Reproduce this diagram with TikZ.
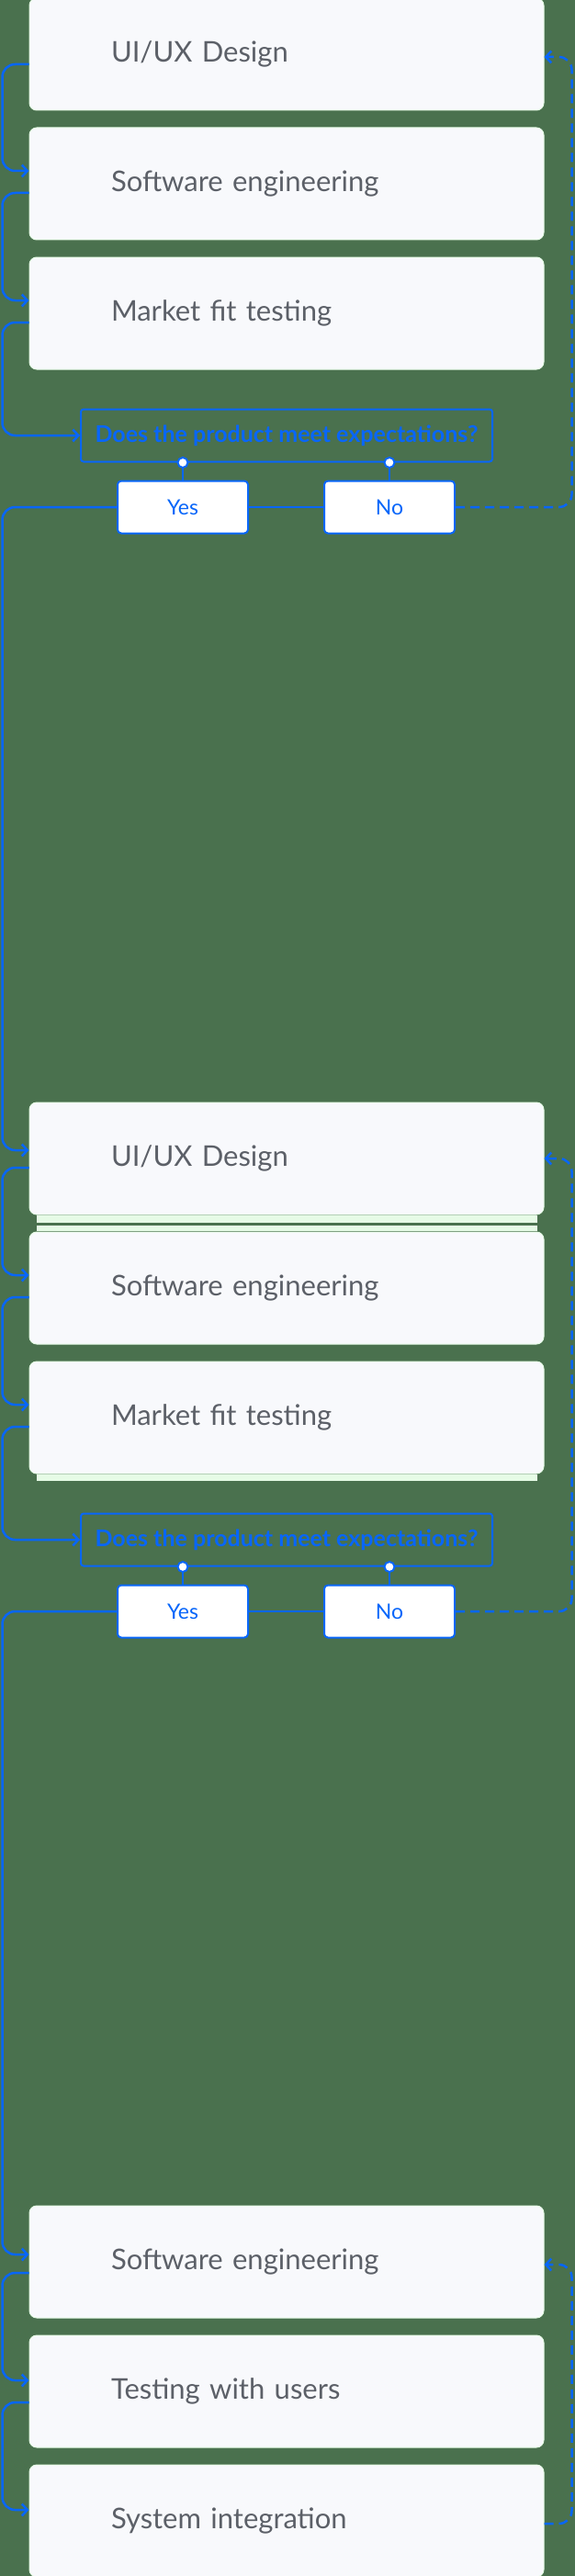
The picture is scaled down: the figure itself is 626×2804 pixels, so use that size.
\documentclass[tikz,border=0pt]{standalone}
\usepackage{fontspec}
\setmainfont{Lato}
\usetikzlibrary{arrows.meta, positioning, calc}
\definecolor{bggreen}{RGB}{74, 113, 78}
\definecolor{cardfill}{RGB}{248, 249, 252}
\definecolor{cardrim}{RGB}{230, 251, 230}
\definecolor{flowblue}{RGB}{8, 102, 250}
\definecolor{labelgray}{RGB}{92, 96, 104}

\begin{document}
\begin{tikzpicture}[
    x=1pt, y=1pt,
    node distance=18pt,
    % Styles
    stepbox/.style={
        rectangle,
        rounded corners=8pt,
        draw=cardrim,
        line width=1pt,
        fill=cardfill,
        minimum width=560pt,
        minimum height=122pt,
        inner xsep=89pt,
        text width=382pt,
        align=left,
        text=labelgray,
        font=\fontsize{31}{36}\selectfont
    },
    checkbox/.style={
        rectangle,
        rounded corners=3pt,
        draw=flowblue,
        line width=2pt,
        minimum width=448pt,
        minimum height=57pt,
        text=flowblue,
        font=\bfseries\fontsize{25}{29}\selectfont
    },
    answerbox/.style={
        rectangle,
        rounded corners=4pt,
        draw=flowblue,
        fill=white,
        line width=2pt,
        minimum width=142pt,
        minimum height=57pt,
        text=flowblue,
        font=\fontsize{23}{27}\selectfont
    },
    portdot/.style={
        circle,
        draw=flowblue,
        fill=white,
        line width=2pt,
        minimum size=11pt,
        inner sep=0pt
    },
    link/.style={
        color=flowblue,
        line width=2.5pt,
        rounded corners=14pt
    },
    arrow/.style={
        link,
        -{Straight Barb[length=6pt, width=13pt]}
    },
    backarrow/.style={
        arrow,
        dash pattern=on 10pt off 6pt
    }
]

\useasboundingbox (0,0) rectangle (626,-2804);
\fill [bggreen] (0,0) rectangle (626,-2804);

% --- Round 1 ---
\node (ux_one) [stepbox] at (312,-59) {UI/UX Design};
\node (eng_one) [stepbox, below=of ux_one] {Software engineering};
\node (fit_one) [stepbox, below=of eng_one] {Market fit testing};

\node (check_one) [checkbox, below=42pt of fit_one] {Does the product meet expectations?};
\node (yes_one) [answerbox, below=19pt of check_one.south, xshift=-113pt] {Yes};
\node (no_one) [answerbox, below=19pt of check_one.south, xshift=112pt] {No};

% --- Round 2 ---
\node (ux_two) [stepbox] at (312,-1261) {UI/UX Design};
\node (eng_two) [stepbox, below=of ux_two] {Software engineering};
\node (fit_two) [stepbox, below=of eng_two] {Market fit testing};

\node (check_two) [checkbox, below=42pt of fit_two] {Does the product meet expectations?};
\node (yes_two) [answerbox, below=19pt of check_two.south, xshift=-113pt] {Yes};
\node (no_two) [answerbox, below=19pt of check_two.south, xshift=112pt] {No};

% card edges peeking out
\fill [cardrim] ([xshift=8pt]ux_two.south west) rectangle ([xshift=-8pt, yshift=-8pt]ux_two.south east);
\fill [cardrim] ([xshift=8pt, yshift=1pt]eng_two.north west) rectangle ([xshift=-8pt, yshift=7pt]eng_two.north east);
\fill [cardrim] ([xshift=8pt]fit_two.south west) rectangle ([xshift=-8pt, yshift=-7pt]fit_two.south east);

% --- Round 3 ---
\node (eng_three) [stepbox] at (312,-2462) {Software engineering};
\node (users_three) [stepbox, below=of eng_three] {Testing with users};
\node (integ_three) [stepbox, below=of users_three] {System integration};

% --- Connections ---

% Left rail (step to step)
\draw [arrow] ([yshift=-11pt]ux_one.west) -- ++(-29pt,0) |- ([yshift=14pt]eng_one.west);
\draw [arrow] ([yshift=-10pt]eng_one.west) -- ++(-29pt,0) |- ([yshift=14pt]fit_one.west);
\draw [arrow] ([yshift=-10pt]fit_one.west) -- ++(-29pt,0) |- (check_one.west);

\draw [arrow] ([yshift=-10pt]ux_two.west) -- ++(-29pt,0) |- ([yshift=14pt]eng_two.west);
\draw [arrow] ([yshift=-10pt]eng_two.west) -- ++(-29pt,0) |- ([yshift=14pt]fit_two.west);
\draw [arrow] ([yshift=-10pt]fit_two.west) -- ++(-29pt,0) |- (check_two.west);

\draw [arrow] ([yshift=-12pt]eng_three.west) -- ++(-29pt,0) |- ([yshift=12pt]users_three.west);
\draw [arrow] ([yshift=-12pt]users_three.west) -- ++(-29pt,0) |- ([yshift=12pt]integ_three.west);

% Question to answers
\node (port_yes_one) [portdot] at (yes_one.north |- check_one.south) {};
\node (port_no_one) [portdot] at (no_one.north |- check_one.south) {};
\draw [link] (port_yes_one) -- (yes_one);
\draw [link] (port_no_one) -- (no_one);
\draw [link] (yes_one) -- (no_one);

\node (port_yes_two) [portdot] at (yes_two.north |- check_two.south) {};
\node (port_no_two) [portdot] at (no_two.north |- check_two.south) {};
\draw [link] (port_yes_two) -- (yes_two);
\draw [link] (port_no_two) -- (no_two);
\draw [link] (yes_two) -- (no_two);

% Yes: on to the next round
\draw [arrow] (yes_one.west) -| ([xshift=-29pt, yshift=9pt]ux_two.west) -- ([yshift=9pt]ux_two.west);
\draw [arrow] (yes_two.west) -| ([xshift=-29pt, yshift=8pt]eng_three.west) -- ([yshift=8pt]eng_three.west);

% No: back to the start (dashed)
\draw [backarrow] (no_one.east) -| ([xshift=30pt, yshift=-3pt]ux_one.east) -- ([yshift=-3pt]ux_one.east);
\draw [backarrow] (no_two.east) -| ([xshift=30pt]ux_two.east) -- (ux_two.east);
\draw [backarrow] ([yshift=-3pt]integ_three.east) -- ++(30pt,0) |- ([yshift=-3pt]eng_three.east);

\end{tikzpicture}
\end{document}
